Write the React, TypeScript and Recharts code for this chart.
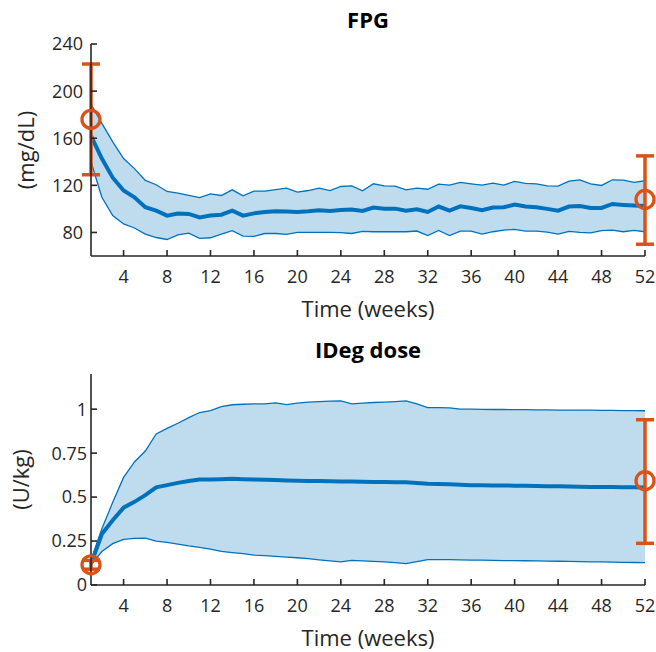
import React from 'react'
import { ComposedChart, Area, Line, Scatter, ErrorBar, XAxis, YAxis } from 'recharts'

const weeks = [
  1, 2, 3, 4, 5, 6, 7, 8, 9, 10, 11, 12, 13, 14, 15, 16, 17, 18, 19, 20, 21, 22, 23, 24, 25, 26,
  27, 28, 29, 30, 31, 32, 33, 34, 35, 36, 37, 38, 39, 40, 41, 42, 43, 44, 45, 46, 47, 48, 49, 50, 51, 52
]

// FPG (mg/dL)
const fpgMean = [
  162, 142.7, 126.5, 115.6, 109.9, 101.4, 98.5, 94.3, 96, 95.7, 92.8, 94.3, 95.1, 98.5, 94.3, 96.2, 97.4,
  98, 97.7, 97.4, 97.9, 98.8, 98.3, 99.1, 99.4, 98.3, 101.1, 100.2, 100.2, 98.5, 99.7, 97.4, 102, 98.5,
  102.2, 100.8, 98.8, 101.1, 101.4, 103.7, 102, 101.4, 100, 98.5, 102, 102.5, 100.8, 100.8, 104.2, 103.4,
  102.8, 102.5
]
const fpgLow = [
  140, 109.9, 94.3, 87.2, 83.8, 78.6, 75.7, 74, 78, 79.4, 74.9, 75.5, 78.6, 81.5, 76.9, 76.6, 79.1, 79.1,
  78.3, 80, 80, 80, 80, 79.8, 79.1, 80.9, 80.6, 80.6, 80.6, 80.6, 81.2, 77.4, 81.7, 77.4, 81.2, 81.2,
  78.6, 80.6, 82, 82.6, 81.2, 81.2, 80.3, 78.6, 80.9, 80, 79.7, 81.5, 82, 80.6, 81.7, 80.6
]
const fpgHigh = [
  189, 172.6, 156.9, 142.7, 134.2, 124.2, 120.5, 114.8, 113.3, 111.4, 109.6, 112.8, 111.4, 116.2, 111.1,
  115, 115, 116.3, 117.6, 114.2, 115.6, 117.6, 115.6, 119, 119.6, 115.3, 121.3, 119.6, 119.3, 116.2, 117.6,
  116.7, 121, 120.2, 122.5, 121.3, 120.2, 121.9, 120.2, 123.3, 121.6, 121.3, 119.6, 119.3, 123.6, 124.7,
  121.3, 119.9, 124.7, 124.4, 122.5, 123.9
]

// IDeg dose (U/kg)
const doseMean = [
  0.12, 0.29, 0.368, 0.44, 0.473, 0.511, 0.555, 0.568, 0.581, 0.592, 0.6, 0.6, 0.602, 0.604, 0.602, 0.6,
  0.598, 0.597, 0.595, 0.593, 0.592, 0.591, 0.59, 0.589, 0.588, 0.587, 0.586, 0.586, 0.585, 0.584, 0.58,
  0.576, 0.575, 0.573, 0.57, 0.568, 0.567, 0.566, 0.566, 0.565, 0.564, 0.563, 0.562, 0.561, 0.56, 0.559,
  0.558, 0.558, 0.557, 0.556, 0.556, 0.555
]
const doseLow = [
  0.115, 0.19, 0.235, 0.26, 0.265, 0.266, 0.25, 0.243, 0.233, 0.222, 0.214, 0.204, 0.191, 0.184, 0.178,
  0.17, 0.167, 0.163, 0.159, 0.155, 0.15, 0.143, 0.137, 0.132, 0.14, 0.137, 0.134, 0.131, 0.127, 0.122,
  0.133, 0.144, 0.144, 0.144, 0.143, 0.142, 0.141, 0.14, 0.139, 0.139, 0.138, 0.137, 0.136, 0.135, 0.134,
  0.133, 0.132, 0.131, 0.13, 0.129, 0.128, 0.127
]
const doseHigh = [
  0.14, 0.32, 0.47, 0.612, 0.7, 0.762, 0.859, 0.891, 0.92, 0.952, 0.981, 0.992, 1.015, 1.025, 1.028, 1.03,
  1.03, 1.036, 1.026, 1.034, 1.04, 1.043, 1.046, 1.047, 1.03, 1.034, 1.038, 1.04, 1.043, 1.047, 1.03, 1.009,
  1.009, 1.007, 1.0, 1.0, 0.999, 0.998, 0.998, 0.997, 0.997, 0.996, 0.996, 0.995, 0.995, 0.994, 0.994,
  0.993, 0.993, 0.992, 0.992, 0.991
]

// baseline / end-of-trial markers with error bars
const markWeeks = [1, 52]
const fpgMarkValue = [176, 108]
const fpgMarkLow = [129, 70]
const fpgMarkHigh = [223, 145]
const doseMarkValue = [0.115, 0.593]
const doseMarkLow = [0.09, 0.237]
const doseMarkHigh = [0.14, 0.94]

const weekTicks = [4, 8, 12, 16, 20, 24, 28, 32, 36, 40, 44, 48, 52]
const fpgTicks = [80, 120, 160, 200, 240]
const doseTicks = [0, 0.25, 0.5, 0.75, 1]

const BLUE = '#0072BD'
const ORANGE = '#D95319'
const AXIS = '#262626'

const buildSeries = (mean: number[], low: number[], high: number[]) =>
  weeks.map((w, i) => ({ week: w, mean: mean[i], low: low[i], high: high[i], band: [low[i], high[i]] }))

const buildMarks = (value: number[], low: number[], high: number[]) =>
  markWeeks.map((w, i) => ({ week: w, value: value[i], err: [value[i] - low[i], high[i] - value[i]] }))

const Ring = (props: any) => {
  const { cx, cy } = props
  if (cx == null || cy == null) return null
  return <circle cx={cx} cy={cy} r={9} fill="none" stroke={ORANGE} strokeWidth={3.3} />
}

interface PanelProps {
  title: string
  yLabel: string
  yLabelX: number
  data: any[]
  marks: any[]
  domain: [number, number]
  ticks: number[]
  marginTop: number
  xAxisHeight: number
  yTickMargin: number
}

const Panel = ({ title, yLabel, yLabelX, data, marks, domain, ticks, marginTop, xAxisHeight, yTickMargin }: PanelProps) => {
  const plotBottom = 326 - xAxisHeight
  const plotMid = (marginTop + plotBottom) / 2
  return (
    <ComposedChart width={656} height={326} data={data} margin={{ top: marginTop, right: 11, bottom: 0, left: 0 }}>
      <XAxis
        type="number"
        dataKey="week"
        domain={[1, 52]}
        ticks={weekTicks}
        height={xAxisHeight}
        axisLine={{ stroke: AXIS, strokeWidth: 1.6 }}
        tickLine={{ stroke: AXIS, strokeWidth: 1.6 }}
        tickSize={-6}
        tickMargin={20}
        tick={{ fill: AXIS, fontSize: 18 }}
      />
      <YAxis
        type="number"
        domain={domain}
        ticks={ticks}
        width={91}
        axisLine={{ stroke: AXIS, strokeWidth: 1.6 }}
        tickLine={{ stroke: AXIS, strokeWidth: 1.6 }}
        tickSize={-6}
        tickMargin={yTickMargin}
        tick={{ fill: AXIS, fontSize: 18 }}
      />
      <Area type="linear" dataKey="band" stroke="none" fill={BLUE} fillOpacity={0.25} isAnimationActive={false} activeDot={false} />
      <Line type="linear" dataKey="low" stroke={BLUE} strokeWidth={1.3} dot={false} activeDot={false} isAnimationActive={false} />
      <Line type="linear" dataKey="high" stroke={BLUE} strokeWidth={1.3} dot={false} activeDot={false} isAnimationActive={false} />
      <Line type="linear" dataKey="mean" stroke={BLUE} strokeWidth={4} dot={false} activeDot={false} isAnimationActive={false} />
      <Scatter className="marks" data={marks} dataKey="value" shape={Ring} isAnimationActive={false}>
        <ErrorBar dataKey="err" direction="y" width={9} stroke={ORANGE} strokeWidth={3.3} isAnimationActive={false} />
      </Scatter>
      <text x={368} y={marginTop - 16} textAnchor="middle" fontSize={22} fontWeight="bold" fill="#000">
        {title}
      </text>
      <text x={368} y={plotBottom + 61} textAnchor="middle" fontSize={22} fill={AXIS}>
        Time (weeks)
      </text>
      <text x={yLabelX} y={plotMid} textAnchor="middle" fontSize={22} fill={AXIS} transform={`rotate(-90, ${yLabelX}, ${plotMid})`}>
        {yLabel}
      </text>
    </ComposedChart>
  )
}

export default function App() {
  const fpgData = buildSeries(fpgMean, fpgLow, fpgHigh)
  const doseData = buildSeries(doseMean, doseLow, doseHigh)
  const fpgMarks = buildMarks(fpgMarkValue, fpgMarkLow, fpgMarkHigh)
  const doseMarks = buildMarks(doseMarkValue, doseMarkLow, doseMarkHigh)
  return (
    <div style={{ position: 'absolute', left: 0, top: 0, width: 656, height: 652, background: '#fff', fontFamily: '"Open Sans", sans-serif' }}>
      {/* make the orange error bars as heavy as the reference */}
      <style>{'svg line[stroke="#D95319"], [class*="errorBar"] line { stroke-width: 3.5px !important; }'}</style>
      <Panel
        title="FPG"
        yLabel="(mg/dL)"
        yLabelX={34}
        data={fpgData}
        marks={fpgMarks}
        domain={[60, 240]}
        ticks={fpgTicks}
        marginTop={44}
        xAxisHeight={70}
        yTickMargin={14}
      />
      <Panel
        title="IDeg dose"
        yLabel="(U/kg)"
        yLabelX={29}
        data={doseData}
        marks={doseMarks}
        domain={[0, 1.2]}
        ticks={doseTicks}
        marginTop={48}
        xAxisHeight={67}
        yTickMargin={10}
      />
    </div>
  )
}
